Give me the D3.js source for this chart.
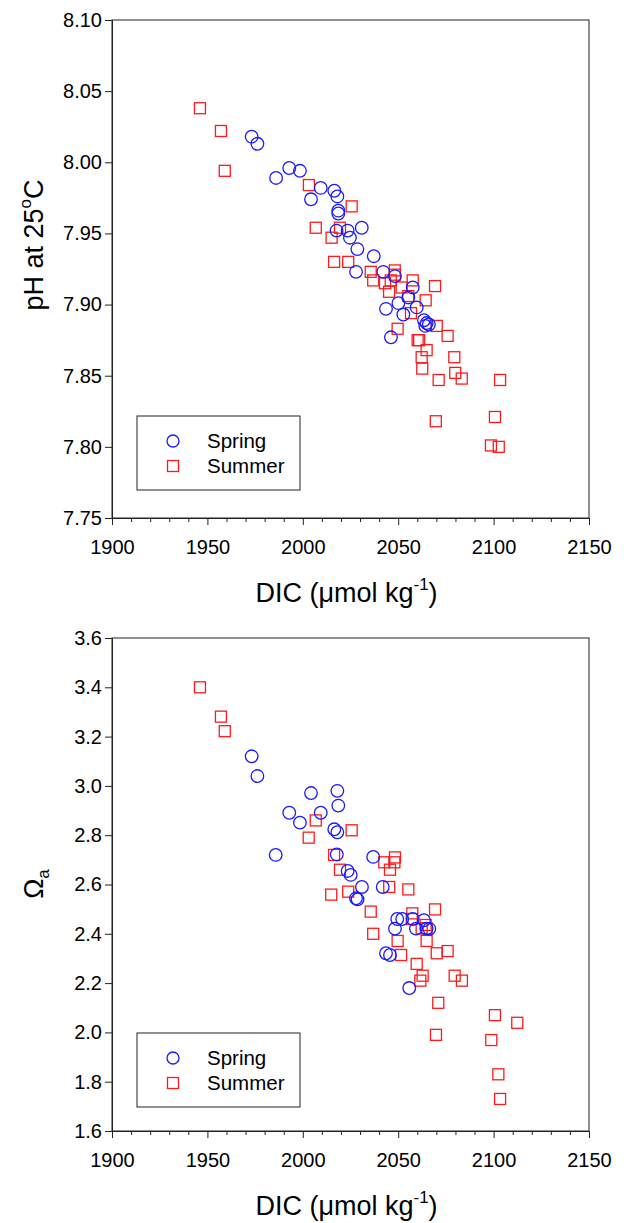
<!DOCTYPE html>
<html>
<head>
<meta charset="utf-8">
<script src="https://cdn.jsdelivr.net/npm/d3@7"></script>
<style>
  html, body { margin: 0; padding: 0; background: #fff; }
  svg text { font-family: "Liberation Sans", Arial, sans-serif; fill: #000; }
</style>
</head>
<body>
<svg id="chart" width="630" height="1223"></svg>
<script>
// ---------- Data ----------
// Top panel: pH at 25°C vs DIC
const springDIC_pH = [1973.2,1976.2,1986.0,1992.9,1998.5,2004.3,2009.4,2016.5,2018.1,2018.6,2018.6,2023.5,2024.7,2030.9,2028.6,2027.9,2037.2,2042.2,2048.3,2057.6,2055.3,2050.1,2043.6,2052.7,2059.7,2063.5,2064.9,2064.2,2066.1,2046.2,2017.7];
const springPH = [8.018,8.013,7.989,7.996,7.994,7.974,7.982,7.980,7.976,7.966,7.964,7.952,7.947,7.954,7.939,7.923,7.934,7.923,7.920,7.912,7.905,7.901,7.897,7.893,7.898,7.889,7.887,7.885,7.886,7.877,7.952];
const summerDIC_pH = [1946.1,1957.1,1959.1,2003.2,2025.6,2006.8,2019.5,2015.1,2016.4,2023.8,2035.6,2048.2,2036.9,2043.1,2046.1,2048.3,2057.6,2069.3,2051.8,2045.2,2055.3,2064.4,2056.7,2070.2,2075.9,2049.7,2060.2,2061.0,2064.9,2062.3,2079.4,2062.6,2079.9,2083.3,2071.2,2103.4,2069.7,2100.7,2098.6,2102.7];
const summerPH = [8.038,8.022,7.994,7.984,7.969,7.954,7.954,7.947,7.930,7.930,7.923,7.924,7.917,7.915,7.917,7.921,7.917,7.913,7.912,7.909,7.906,7.903,7.894,7.885,7.878,7.883,7.875,7.875,7.868,7.863,7.863,7.855,7.852,7.848,7.847,7.847,7.818,7.821,7.801,7.800];

// Bottom panel: Omega aragonite vs DIC
const springDIC_om = [1973.2,1976.2,1985.8,1992.9,1998.5,2004.3,2009.4,2016.5,2018.1,2018.1,2018.6,2017.8,2036.9,2023.5,2025.1,2031.0,2041.9,2027.9,2028.7,2049.5,2052.1,2057.6,2063.5,2048.3,2059.3,2064.9,2066.3,2043.6,2045.7,2055.8];
const springOmega = [3.120,3.040,2.720,2.891,2.851,2.971,2.891,2.824,2.812,2.980,2.920,2.722,2.712,2.655,2.639,2.590,2.590,2.544,2.540,2.460,2.460,2.460,2.455,2.421,2.421,2.421,2.420,2.321,2.314,2.180];
const summerDIC_om = [1946.1,1957.1,1959.1,2006.8,2025.6,2003.1,2016.4,2048.3,2042.7,2048.0,2045.7,2019.5,2045.3,2055.3,2023.8,2014.9,2069.3,2057.4,2057.1,2035.6,2064.4,2062.3,2064.9,2036.9,2049.7,2064.9,2075.9,2070.2,2051.5,2059.7,2062.8,2061.6,2079.6,2083.4,2071.0,2100.7,2112.4,2069.8,2098.8,2102.5,2103.4];
const summerOmega = [3.400,3.281,3.222,2.860,2.820,2.790,2.720,2.710,2.690,2.690,2.660,2.660,2.590,2.580,2.571,2.559,2.499,2.483,2.460,2.490,2.436,2.422,2.422,2.400,2.371,2.371,2.330,2.321,2.314,2.278,2.230,2.210,2.230,2.210,2.120,2.070,2.039,1.990,1.969,1.830,1.730];

// Ticks
const xTicks = [1900,1950,2000,2050,2100,2150];
const pHTicks = [7.75,7.80,7.85,7.90,7.95,8.00,8.05,8.10];
const omegaTicks = [1.6,1.8,2.0,2.2,2.4,2.6,2.8,3.0,3.2,3.4,3.6];
const seriesNames = ["Spring","Summer"];

// ---------- Drawing ----------
const svg = d3.select("#chart");
const BLUE = "#1a1aff", RED = "#ff1a1a";
const left = 112, right = 589;
const TICKFONT = 20, TITLEFONT = 27;

function panel(cfg) {
  const g = svg.append("g");
  const x = d3.scaleLinear().domain([1900, 2150]).range([left, right]);
  const y = d3.scaleLinear().domain(cfg.yDomain).range([cfg.bottom, cfg.top]);

  // frame
  g.append("rect").attr("x", left).attr("y", cfg.top)
    .attr("width", right - left).attr("height", cfg.bottom - cfg.top)
    .attr("fill", "none").attr("stroke", "#222").attr("stroke-width", 1);

  // x axis: major ticks
  g.append("g").attr("transform", `translate(0,${cfg.bottom})`)
    .call(d3.axisBottom(x).tickValues(xTicks).tickFormat(d3.format("d"))
      .tickSize(7).tickPadding(15));
  // minor ticks
  const minor = d3.range(1900, 2151, 10).filter(v => v % 50 !== 0);
  g.append("g").attr("transform", `translate(0,${cfg.bottom})`)
    .call(d3.axisBottom(x).tickValues(minor).tickFormat("").tickSize(4))
    .call(s => s.select(".domain").remove());

  g.append("g").attr("transform", `translate(${left},0)`)
    .call(d3.axisLeft(y).tickValues(cfg.yTicks).tickFormat(cfg.yFormat)
      .tickSize(7).tickPadding(3));

  g.selectAll(".domain").attr("stroke", "#222");
  g.selectAll(".tick line").attr("stroke", "#222");
  g.selectAll(".tick text").attr("font-size", TICKFONT)
    .attr("font-family", "Liberation Sans, Arial, sans-serif").attr("fill", "#000");

  // points: summer squares first, then spring circles
  const sq = 11;
  g.append("g").selectAll("rect.pt").data(d3.zip(cfg.sumX, cfg.sumY)).join("rect")
    .attr("x", d => x(d[0]) - sq / 2).attr("y", d => y(d[1]) - sq / 2)
    .attr("width", sq).attr("height", sq)
    .attr("fill", "none").attr("stroke", RED).attr("stroke-width", 1.3);
  g.append("g").selectAll("circle").data(d3.zip(cfg.sprX, cfg.sprY)).join("circle")
    .attr("cx", d => x(d[0])).attr("cy", d => y(d[1])).attr("r", 6.3)
    .attr("fill", "none").attr("stroke", BLUE).attr("stroke-width", 1.3);

  // legend
  const lg = g.append("g");
  lg.append("rect").attr("x", 137).attr("y", cfg.legTop).attr("width", 163).attr("height", 74)
    .attr("fill", "#fff").attr("stroke", "#222").attr("stroke-width", 1);
  lg.append("circle").attr("cx", 173).attr("cy", cfg.legTop + 25).attr("r", 6)
    .attr("fill", "none").attr("stroke", BLUE).attr("stroke-width", 1.3);
  lg.append("rect").attr("x", 173 - 5.5).attr("y", cfg.legTop + 50 - 5.5).attr("width", 11).attr("height", 11)
    .attr("fill", "none").attr("stroke", RED).attr("stroke-width", 1.3);
  lg.append("text").attr("x", 207).attr("y", cfg.legTop + 32).attr("font-size", 20.5).text(seriesNames[0]);
  lg.append("text").attr("x", 207).attr("y", cfg.legTop + 57).attr("font-size", 20.5).text(seriesNames[1]);

  // x title
  const xt = g.append("text").attr("x", (left + right) / 2 - 4).attr("y", cfg.bottom + 84)
    .attr("text-anchor", "middle").attr("font-size", TITLEFONT);
  xt.append("tspan").text("DIC (\u03bcmol kg");
  xt.append("tspan").attr("font-size", 17).attr("dy", -12).text("-1");
  xt.append("tspan").attr("dy", 12).text(")");

  return g;
}

panel({
  top: 20, bottom: 518, yDomain: [7.75, 8.10], yTicks: pHTicks, yFormat: d3.format(".2f"),
  sprX: springDIC_pH, sprY: springPH, sumX: summerDIC_pH, sumY: summerPH, legTop: 416
});
const yt1 = svg.append("text").attr("transform", "translate(43,245) rotate(-90)")
  .attr("text-anchor", "middle").attr("font-size", TITLEFONT);
yt1.append("tspan").text("pH at 25");
yt1.append("tspan").attr("font-size", 17).attr("dy", -12).text("o");
yt1.append("tspan").attr("dy", 12).text("C");

panel({
  top: 638, bottom: 1131, yDomain: [1.6, 3.6], yTicks: omegaTicks, yFormat: d3.format(".1f"),
  sprX: springDIC_om, sprY: springOmega, sumX: summerDIC_om, sumY: summerOmega, legTop: 1033
});
const yt2 = svg.append("text").attr("transform", "translate(43,884) rotate(-90)")
  .attr("text-anchor", "middle").attr("font-size", TITLEFONT);
yt2.append("tspan").text("\u03a9");
yt2.append("tspan").attr("font-size", 17).attr("dy", 6).text("a");
</script>
</body>
</html>
